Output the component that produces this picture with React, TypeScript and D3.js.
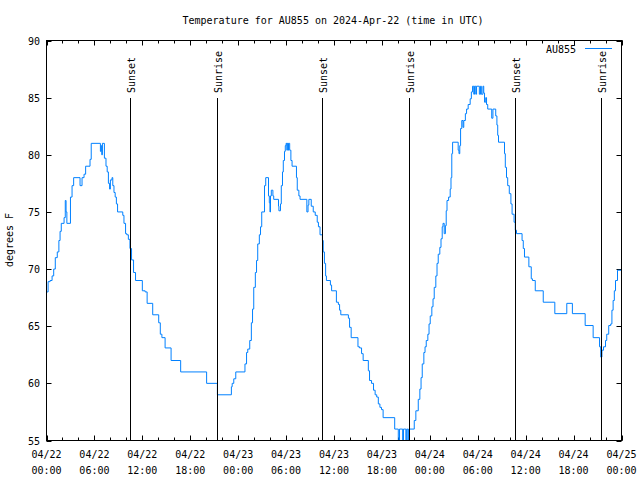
import * as d3 from "d3";

// hours since 2024-04-22 00:00 UTC, temperature in deg F (change points)
const hours = [
  0.0, 0.2, 0.45, 0.7, 0.9, 1.1, 1.35, 1.55, 1.7, 1.85, 2.2, 2.35, 2.45, 2.55,
  3.0, 3.2, 3.4, 4.2, 4.45, 4.7, 4.9, 5.45, 5.6, 6.75, 6.85, 6.92, 7.0, 7.25,
  7.45, 7.6, 7.75, 7.9, 8.0, 8.2, 8.3, 8.45, 8.6, 8.75, 8.9, 9.55, 9.7, 9.9,
  10.05, 10.25, 10.45, 10.65, 10.9, 11.15, 12.0, 12.35, 12.6, 13.3, 14.05,
  14.25, 14.45, 14.85, 15.6, 16.8, 20.05, 21.4, 23.15, 23.25, 23.45, 23.7,
  24.85, 25.05, 25.2, 25.45, 25.65, 25.8, 25.95, 26.15, 26.3, 26.45, 26.65,
  26.8, 26.95, 27.3, 27.45, 27.8, 27.9, 27.98, 28.05, 28.15, 28.35, 28.45,
  29.05, 29.1, 29.3, 29.4, 29.55, 29.65, 29.8, 29.9, 30.0, 30.1, 30.15, 30.25,
  30.3, 30.45, 30.6, 30.75, 31.3, 31.4, 31.6, 31.75, 32.6, 32.75, 32.85,
  33.15, 33.4, 33.65, 33.9, 34.05, 34.25, 34.55, 34.65, 34.8, 34.95, 35.05,
  35.55, 35.7, 36.3, 36.55, 36.7, 36.85, 37.8, 37.95, 38.15, 39.0, 39.2,
  39.45, 39.65, 40.3, 40.45, 40.7, 40.95, 41.15, 41.35, 41.55, 41.75, 41.95,
  42.15, 43.6, 44.05, 44.2, 44.6, 44.7, 45.0, 45.1, 45.25, 45.35, 46.05,
  46.25, 46.55, 46.75, 46.9, 47.05, 47.25, 47.4, 47.55, 47.75, 47.9, 48.05,
  48.25, 48.4, 48.55, 48.75, 48.9, 49.05, 49.25, 49.4, 49.55, 49.65, 49.8,
  49.95, 50.05, 50.15, 50.35, 50.55, 50.65, 50.75, 50.85, 51.55, 51.65,
  51.75, 51.85, 52.0, 52.15, 52.25, 52.45, 52.6, 52.8, 53.05, 53.2, 53.35,
  53.5, 53.6, 53.75, 53.85, 54.2, 54.35, 54.45, 54.65, 54.75, 54.85, 55.0,
  55.1, 55.25, 55.75, 55.9, 56.25, 56.4, 56.5, 56.6, 57.35, 57.45, 57.6,
  57.75, 57.95, 58.15, 58.3, 58.55, 58.7, 58.85, 59.55, 59.7, 59.85, 60.4,
  60.7, 60.85, 61.2, 62.2, 63.65, 65.15, 65.85, 67.45, 68.45, 69.25, 69.4,
  69.55, 69.75, 70.0, 70.15, 70.4, 70.65, 70.8, 70.95, 71.1, 71.25, 71.5,
  72.0,
];
const temps = [
  68, 68.9, 69, 69.4, 70, 71, 71.5, 72.5, 73.3, 74, 74.5, 76, 75, 74,
  76.3, 77.3, 78, 77.3, 78, 78.3, 79, 79.6, 81, 80.3, 80.8, 80, 81, 79.7,
  79, 78.5, 77.5, 77, 77.8, 78, 77.3, 76.7, 76.3, 75.7, 75, 74.7, 74, 73.1,
  73, 72.6, 71.8, 70.8, 69.7, 69, 68.1, 68, 67, 66, 65.3,
  64.3, 64, 63.1, 62, 61, 60, 59, 59.7, 60, 60.4, 61,
  61.7, 62.7, 63, 63.75, 65.3, 66.5, 68.4, 69.7, 70.75, 72.2, 73,
  73.7, 75, 77.3, 78, 76.4, 75.8, 75, 76.4, 76.9, 76.4, 76.1,
  75.5, 75.1, 75.7, 77.3, 78.5, 79.5, 80.3, 80.8, 81, 80.4, 81, 80.4,
  81, 80.4, 79.5, 79, 78, 76.9, 76.4, 76.1, 75, 75.6, 76.1,
  75.5, 75, 74.7, 74.1, 73.7, 73, 72.5, 71.5, 70.5, 69.4, 69,
  68.6, 68.1, 67.1, 66.9, 66.4, 66, 65.7, 64.9, 64, 63.2, 63.1,
  62.6, 62, 61.1, 60.25, 60, 59.4, 59, 58.8, 58.2, 57.9, 57.7,
  57, 56, 54.8, 56, 54.8, 56, 54.8, 56, 54.8, 56, 56.75,
  57.6, 58.6, 59.5, 60.5, 61.7, 62.7, 63.2, 63.75, 64.3, 65.2, 65.9,
  66.7, 67.4, 68.4, 69.4, 70.5, 71.3, 71.9, 72.65, 73.7, 74, 73.1,
  73.8, 75.1, 76, 76.3, 77, 78, 80.1, 81.1, 80.4, 80.1,
  80.8, 82.3, 83, 82.4, 83, 83.6, 84, 84.4, 84.9, 85.5, 86,
  85.3, 86, 85.3, 86, 85.3, 86, 85.3, 86, 85.4, 84.6, 85,
  84.4, 84, 83.2, 84, 83.4, 82.6, 81.7, 81.1, 80.1, 78.9, 78,
  77.3, 76.6, 75.7, 74.8, 74.1, 73.4, 73.1, 72.5, 71.8, 71.05, 70.2,
  69.15, 69, 68.1, 67.1, 66.1, 67, 66.1, 65.06, 64, 63.2, 62.3,
  62.9, 63.2, 63.75, 64.3, 65.06, 65.2, 66.4, 67.25, 68.1, 69, 69.9,
  70,
];

const sunLabels = ["Sunset", "Sunrise", "Sunset", "Sunrise", "Sunset", "Sunrise"];
const sunHours = [10.45, 21.36, 34.53, 45.45, 58.62, 69.4];

const seriesName = "AU855";
const title = "Temperature for AU855 on 2024-Apr-22 (time in UTC)";
const yLabel = "degrees F";

const start = Date.UTC(2024, 3, 22, 0, 0);
const toDate = (h: number) => new Date(start + h * 3600 * 1000);

const W = 640;
const H = 480;
const left = 46.5;
const right = 621.5;
const top = 40.5;
const bottom = 440.5;
const font = "'DejaVu Sans Mono', monospace";
const blue = "#0080ff";

export default function App() {
  const x = d3
    .scaleUtc()
    .domain([toDate(0), toDate(72)])
    .range([left, right]);
  const y = d3.scaleLinear().domain([55, 90]).range([bottom, top]);

  const points: [Date, number][] = hours.map((h, i) => [toDate(h), temps[i]]);
  const line = d3
    .line<[Date, number]>()
    .x((d) => x(d[0]))
    .y((d) => y(d[1]))
    .curve(d3.curveStepAfter);

  const majorTicks = x.ticks(d3.utcHour.every(6)!);
  const minorTicks = x.ticks(d3.utcHour.every(2)!);
  const yTicks = y.ticks(7);
  const fmtDay = d3.utcFormat("%m/%d");
  const fmtTime = d3.utcFormat("%H:%M");

  return (
    <svg
      width={W}
      height={H}
      style={{ position: "absolute", left: 0, top: 0, background: "#fff" }}
      fontFamily={font}
      fontSize={10}
    >
      <defs>
        <clipPath id="plot">
          <rect x={left} y={top} width={right - left} height={bottom - top} />
        </clipPath>
      </defs>
      <rect width={W} height={H} fill="#fff" />

      <text x={333} y={24} textAnchor="middle">
        {title}
      </text>

      {/* minor x ticks */}
      {minorTicks.map((t, i) => (
        <g key={"mx" + i} stroke="#000">
          <line x1={Math.round(x(t)) + 0.5} x2={Math.round(x(t)) + 0.5} y1={bottom} y2={bottom - 3} />
          <line x1={Math.round(x(t)) + 0.5} x2={Math.round(x(t)) + 0.5} y1={top} y2={top + 3} />
        </g>
      ))}
      {majorTicks.map((t, i) => (
        <g key={"x" + i}>
          <line x1={Math.round(x(t)) + 0.5} x2={Math.round(x(t)) + 0.5} y1={bottom} y2={bottom - 5} stroke="#000" />
          <line x1={Math.round(x(t)) + 0.5} x2={Math.round(x(t)) + 0.5} y1={top} y2={top + 5} stroke="#000" />
          <text x={x(t)} y={458} textAnchor="middle">
            {fmtDay(t)}
          </text>
          <text x={x(t)} y={474} textAnchor="middle">
            {fmtTime(t)}
          </text>
        </g>
      ))}
      {yTicks.map((t) => (
        <g key={"y" + t}>
          <line x1={left} x2={left + 5} y1={Math.round(y(t)) + 0.5} y2={Math.round(y(t)) + 0.5} stroke="#000" />
          <line x1={right} x2={right - 5} y1={Math.round(y(t)) + 0.5} y2={Math.round(y(t)) + 0.5} stroke="#000" />
          <text x={40} y={y(t) + 4} textAnchor="end">
            {t}
          </text>
        </g>
      ))}

      <text
        transform={`translate(13,240) rotate(-90)`}
        textAnchor="middle"
      >
        {yLabel}
      </text>

      <path
        d={line(points) ?? ""}
        fill="none"
        stroke={blue}
        strokeWidth={1}
        clipPath="url(#plot)"
      />

      {sunHours.map((h, i) => {
        const sx = Math.round(x(toDate(h))) + 0.5;
        return (
          <g key={"s" + i}>
            <line x1={sx} x2={sx} y1={98} y2={bottom} stroke="#000" />
            <text
              transform={`translate(${sx + 4},93) rotate(-90)`}
              textAnchor="start"
            >
              {sunLabels[i]}
            </text>
          </g>
        );
      })}

      <text x={576} y={53} textAnchor="end">
        {seriesName}
      </text>
      <line x1={585} x2={612} y1={48.5} y2={48.5} stroke={blue} />

      <rect
        x={left}
        y={top}
        width={right - left}
        height={bottom - top}
        fill="none"
        stroke="#000"
      />
    </svg>
  );
}
